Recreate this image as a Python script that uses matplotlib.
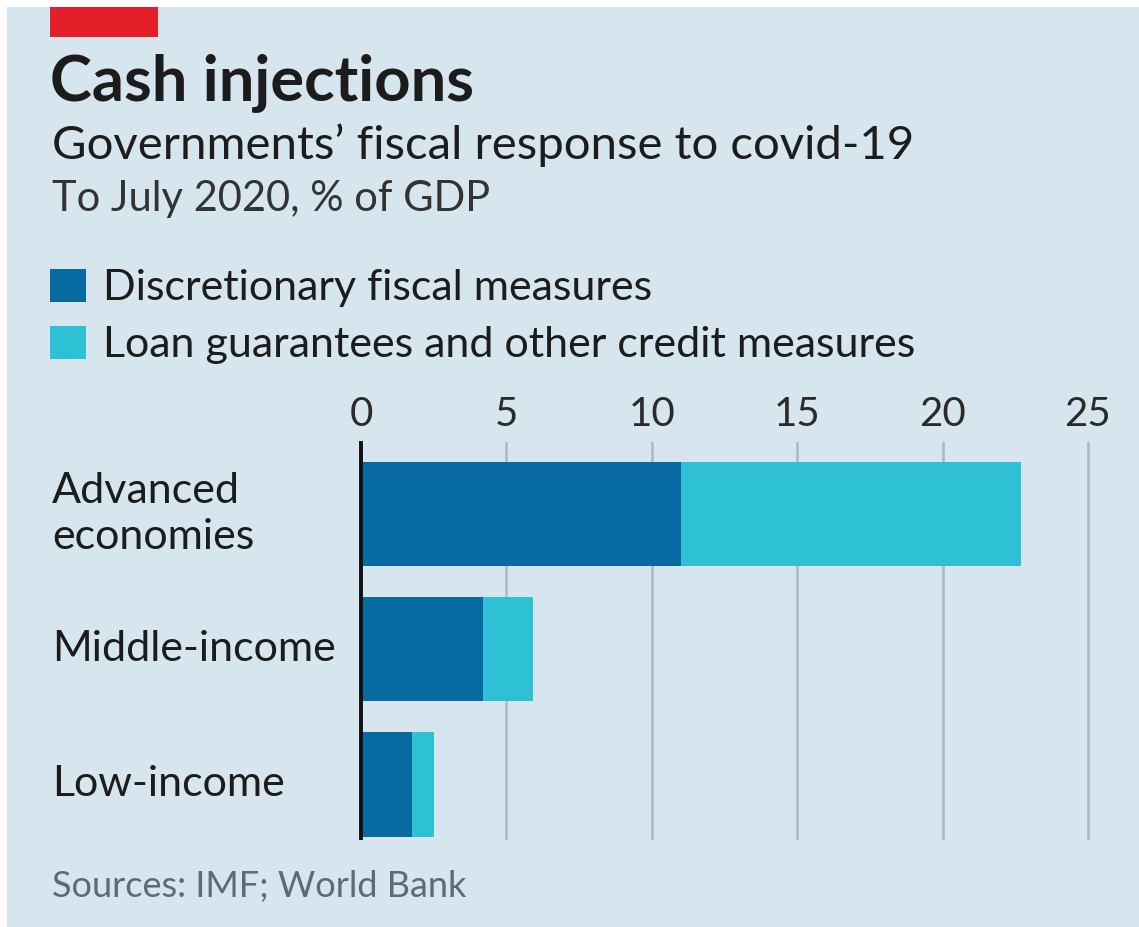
import matplotlib.pyplot as plt
from matplotlib.patches import Rectangle

# data, % of GDP, to July 2020
groups = ["Advanced\neconomies", "Middle-income", "Low-income"]
discretionary = [11.0, 4.2, 1.75]
loans = [11.7, 1.7, 0.75]
ticks = [0, 5, 10, 15, 20, 25]
legend_labels = ["Discretionary fiscal measures", "Loan guarantees and other credit measures"]

dark = "#076ba1"
light = "#2ec0d4"
bg = "#d6e5ee"
ink = "#1c1c1c"

plt.rcParams["font.family"] = ["Lato", "DejaVu Sans"]

W, H = 1139, 927
fig = plt.figure(figsize=(W / 100, H / 100), dpi=100, facecolor="white")

def fx(px):
    return px / W

def fy(py):
    return 1 - py / H

def box(x0, y0, x1, y1, color, z):
    fig.patches.append(Rectangle((fx(x0), fy(y1)), fx(x1 - x0), (y1 - y0) / H,
                                 transform=fig.transFigure, facecolor=color,
                                 edgecolor="none", zorder=z))

# background panel and red tab
box(7, 7, W, H, bg, -2)
box(50, 7, 158, 37, "#e3202a", -1)

fig.text(fx(50), fy(100), "Cash injections", fontsize=45.5, fontweight="bold",
         color=ink, va="baseline")
fig.text(fx(52), fy(159), "Governments\u2019 fiscal response to covid-19", fontsize=34,
         color=ink, va="baseline")
fig.text(fx(52), fy(211), "To July 2020, % of GDP", fontsize=30,
         color="#333333", va="baseline")
fig.text(fx(52), fy(897), "Sources: IMF; World Bank", fontsize=26,
         color="#5f6b73", va="baseline")

# legend drawn by hand
for i, (lab, col) in enumerate(zip(legend_labels, [dark, light])):
    top = 269 + i * 57
    box(50, top, 86, top + 33, col, -1)
    fig.text(fx(103), fy(top + 31), lab, fontsize=31, color=ink, va="baseline")

# axes: 0 at x=361, 25 at x=1088, top 443, bottom 838
ax = fig.add_axes([fx(361), fy(838), fx(1088 - 361), (838 - 443) / H])
ax.set_facecolor("none")
y = list(range(len(groups)))
ax.barh(y, discretionary, height=0.77, color=dark, zorder=3)
ax.barh(y, loans, left=discretionary, height=0.77, color=light, zorder=3)

ax.set_xlim(0, 25)
ax.set_ylim(2.396, -0.526)
ax.set_xticks(ticks)
ax.xaxis.tick_top()
ax.tick_params(axis="x", length=0, pad=7, labelsize=29, labelcolor="#2a2a2a")
ax.set_yticks([])
for t in ticks[1:]:
    ax.axvline(t, color="#aebcc6", lw=2, zorder=1, clip_on=False)
for s in ["top", "right", "bottom"]:
    ax.spines[s].set_visible(False)
ax.spines["left"].set_linewidth(2.8)
ax.spines["left"].set_color("#111111")
ax.spines["left"].set_zorder(4)

label_x = (52 - 361) / (1088 - 361)
for yi, g in zip(y, groups):
    ax.text(label_x, yi, g, transform=ax.get_yaxis_transform(), ha="left", va="center",
            fontsize=31, color=ink, linespacing=1.25)

fig.savefig("out.png", dpi=100, facecolor="white")
